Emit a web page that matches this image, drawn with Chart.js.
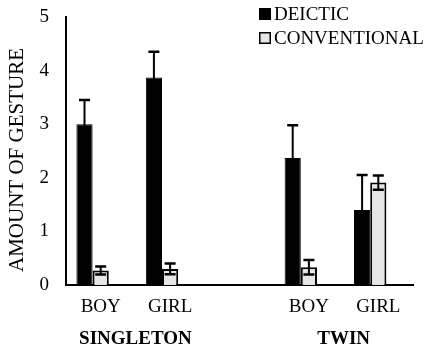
<!DOCTYPE html>
<html>
<head>
<meta charset="utf-8">
<script src="https://cdn.jsdelivr.net/npm/chart.js@4"></script>
<style>
  html, body { margin: 0; padding: 0; background: #fff; }
  #wrap { width: 430px; height: 349px; }
</style>
</head>
<body>
<div id="wrap"><canvas id="c" width="430" height="349"></canvas></div>
<script>
const categories = ['BOY', 'GIRL', '', 'BOY', 'GIRL'];
const groupLabels = ['SINGLETON', 'TWIN'];
const groupSpans = [[0, 1], [3, 4]];
const seriesNames = ['DEICTIC', 'CONVENTIONAL'];
const deictic = [3.0, 3.87, null, 2.37, 1.40];
const deicticErr = [0.45, 0.48, null, 0.61, 0.65];
const conventional = [0.27, 0.30, null, 0.33, 1.91];
const conventionalErr = [0.075, 0.10, null, 0.135, 0.135];
const spacer = [null, null, null, null, null];
const yTickValues = [0, 1, 2, 3, 4, 5];
const yTitle = 'AMOUNT OF GESTURE';

const FONT = "'Liberation Serif', 'Times New Roman', serif";
const errors = [deicticErr, conventionalErr];

const errorBarPlugin = {
  id: 'errorBars',
  afterDatasetsDraw(chart) {
    const ctx = chart.ctx;
    const y = chart.scales.y;
    ctx.save();
    ctx.strokeStyle = '#000';
    errors.forEach((errs, i) => {
      const meta = chart.getDatasetMeta(i);
      const vals = chart.data.datasets[i].data;
      meta.data.forEach((bar, j) => {
        if (vals[j] == null || errs[j] == null) return;
        const x = bar.x;
        const top = y.getPixelForValue(vals[j] + errs[j]);
        const bot = y.getPixelForValue(vals[j] - errs[j]);
        ctx.lineWidth = 2;
        ctx.beginPath();
        ctx.moveTo(x, top); ctx.lineTo(x, bot);
        ctx.stroke();
        ctx.lineWidth = 2.5;
        ctx.beginPath();
        ctx.moveTo(x - 5.5, top); ctx.lineTo(x + 5.5, top);
        ctx.moveTo(x - 5.5, bot); ctx.lineTo(x + 5.5, bot);
        ctx.stroke();
      });
    });
    ctx.restore();
  }
};

const extrasPlugin = {
  id: 'extras',
  afterDraw(chart) {
    const ctx = chart.ctx;
    const xs = chart.scales.x;
    const area = chart.chartArea;
    ctx.save();
    // group labels
    ctx.fillStyle = '#000';
    ctx.font = 'bold 19px ' + FONT;
    ctx.textAlign = 'center';
    ctx.textBaseline = 'alphabetic';
    groupLabels.forEach((g, i) => {
      const [a, b] = groupSpans[i];
      const cx = (xs.getPixelForValue(a) + xs.getPixelForValue(b)) / 2;
      ctx.fillText(g, cx, 344);
    });
    // y title
    ctx.font = '21px ' + FONT;
    ctx.translate(17, (area.top + area.bottom) / 2 + 9);
    ctx.rotate(-Math.PI / 2);
    ctx.textBaseline = 'middle';
    ctx.fillText(yTitle, 0, 0);
    ctx.restore();
    // legend
    ctx.save();
    ctx.font = '19px ' + FONT;
    ctx.textAlign = 'left';
    ctx.textBaseline = 'middle';
    const rows = [14, 38];
    chart.data.datasets.slice(0, 2).forEach((ds, i) => {
      const cy = rows[i];
      ctx.fillStyle = ds.backgroundColor;
      ctx.fillRect(259, cy - 6, 12, 12);
      ctx.strokeStyle = '#000';
      ctx.lineWidth = 1.5;
      ctx.strokeRect(259.75, cy - 5.25, 10.5, 10.5);
      ctx.fillStyle = '#000';
      ctx.fillText(ds.label, 274, cy + 1);
    });
    ctx.restore();
  }
};

new Chart(document.getElementById('c'), {
  type: 'bar',
  data: {
    labels: categories,
    datasets: [
      { label: seriesNames[0], data: deictic, backgroundColor: '#000000', borderColor: '#000000', borderWidth: 1 },
      { label: seriesNames[1], data: conventional, backgroundColor: '#e6e6e6', borderColor: '#000000', borderWidth: 2 },
      { label: '', data: spacer, backgroundColor: 'rgba(0,0,0,0)' }
    ]
  },
  options: {
    responsive: false,
    animation: false,
    devicePixelRatio: 1,
    layout: { padding: { top: 17, right: 17, left: 0, bottom: 0 } },
    datasets: { bar: { categoryPercentage: 0.7, barPercentage: 1.0 } },
    plugins: { legend: { display: false }, tooltip: { enabled: false } },
    scales: {
      x: {
        grid: { display: false, drawTicks: false },
        border: { display: true, color: '#000', width: 2 },
        ticks: { color: '#000', font: { family: FONT, size: 19 }, padding: 11, maxRotation: 0, autoSkip: false },
        afterFit(scale) { scale.height = 64; }
      },
      y: {
        min: 0, max: 5,
        grid: { display: false, drawTicks: true, tickLength: 14 },
        border: { display: true, color: '#000', width: 2 },
        afterBuildTicks(scale) { scale.ticks = yTickValues.map(v => ({ value: v })); },
        ticks: { color: '#000', font: { family: FONT, size: 19 }, padding: 3 },
        afterFit(scale) { scale.width = 66; }
      }
    }
  },
  plugins: [errorBarPlugin, extrasPlugin]
});
</script>
</body>
</html>
